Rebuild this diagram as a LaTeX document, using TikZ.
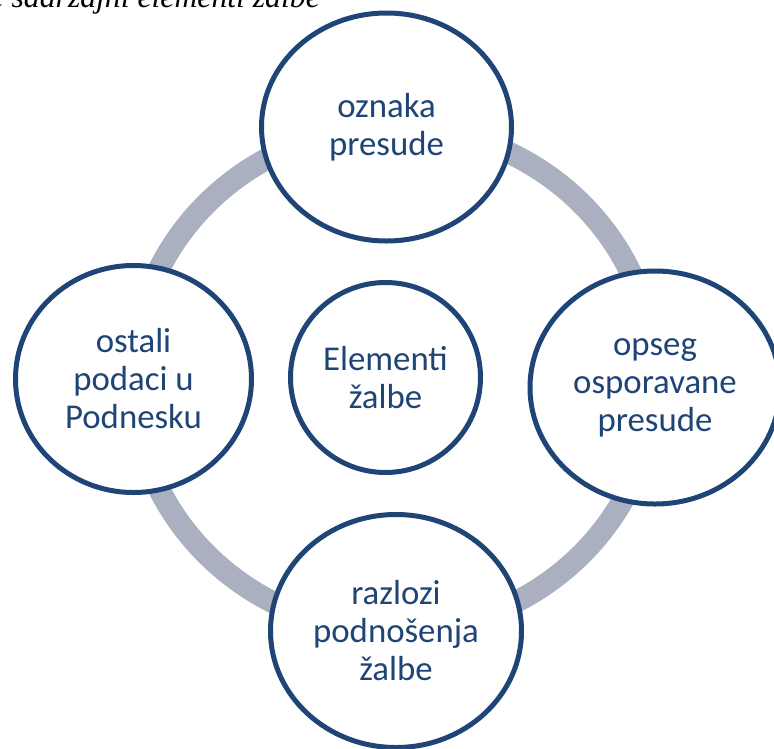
\documentclass[tikz,border=0pt]{standalone}
\usepackage{fontspec}
\setmainfont{Carlito}
\newfontfamily\capfont{Liberation Serif}
\usepackage{tikz}
\usetikzlibrary{shapes.geometric}
\definecolor{ringblue}{HTML}{1F4476}
\definecolor{ringgray}{HTML}{ABB0C0}

\begin{document}
\begin{tikzpicture}[x=1pt,y=-1pt,
  elem/.style={ellipse,draw=ringblue,line width=5pt,fill=white,inner sep=0pt,align=center,text=ringblue,font=\fontsize{34.8}{38}\selectfont},
  band/.style={draw=ringgray,line width=22pt}]
\useasboundingbox (0,0) rectangle (774,748);
\node[anchor=base east,inner sep=0pt,font=\capfont\itshape\fontsize{31.7}{36}\selectfont] (cap_t) at (320,7) {e sadržajni elementi žalbe};
\draw[band] (394,379) ellipse [x radius=261,y radius=252];
\node[elem,minimum width=250pt,minimum height=228pt] (el_top) at (386.5,127) {oznaka\\presude};
\node[elem,minimum width=236pt,minimum height=227pt] (el_left) at (133.5,379) {ostali\\podaci u\\Podnesku};
\node[elem,minimum width=250pt,minimum height=233pt] (el_right) at (655,387.5) {opseg\\osporavane\\presude};
\node[elem,minimum width=251pt,minimum height=233pt] (el_bot) at (396,631) {razlozi\\podnošenja\\žalbe};
\node[elem,minimum width=190pt,minimum height=190pt] (el_mid) at (385.5,377.5) {Elementi\\žalbe};
\end{tikzpicture}
\end{document}
